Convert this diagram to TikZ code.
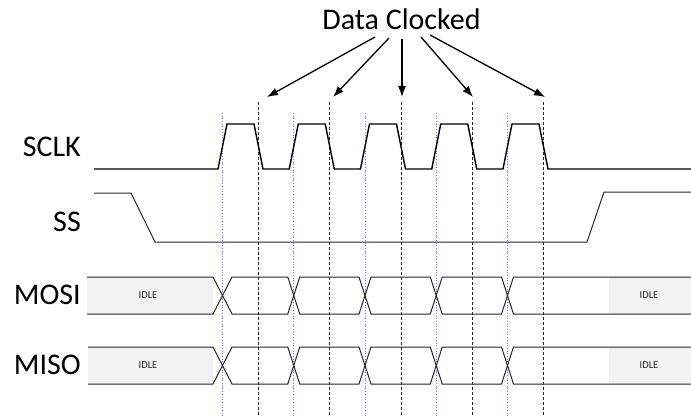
\documentclass[tikz,border=0pt]{standalone}
\usepackage{fontspec}
\setmainfont{Carlito}
\usetikzlibrary{arrows.meta}
\begin{document}
\begin{tikzpicture}[x=1pt,y=-1pt,
  lbl/.style={font=\fontsize{30}{36}\selectfont, inner sep=0pt, anchor=base east},
  idle/.style={font=\fontsize{10.5}{12}\selectfont, inner sep=0pt, text=black!85},
  clk/.style={line width=1.4pt, black, line join=miter},
  sig/.style={line width=1pt, black!85},
  guide/.style={dash pattern=on 3pt off 2pt, line width=0.9pt, black!85},
  edgeline/.style={dotted, line width=0.7pt, blue!55},
  pointer/.style={line width=1.3pt, -{Latex[length=11pt,width=8pt]}},
  idlefill/.style={fill=gray!10},
]
\useasboundingbox (0,0) rectangle (691,417);

% grey idle regions
\fill[idlefill] (87,277) rectangle (213,314);
\fill[idlefill] (609,277) rectangle (691,314);
\fill[idlefill] (88,347) rectangle (213,384);
\fill[idlefill] (609,347) rectangle (691,384);

% blue dotted lines at rising edges
\foreach \x [count=\i] in {222.5,293.75,365,436.25,507.5} {
  \coordinate (b\i top) at (\x,113);
  \coordinate (b\i bot) at (\x,417);
  \draw[edgeline] (b\i top) -- (b\i bot);
}

% dashed lines at falling edges
\foreach \x [count=\i] in {258.5,329.75,401,472.25,543.5} {
  \coordinate (d\i top) at (\x,102);
  \coordinate (d\i bot) at (\x,417);
  \draw[guide] (d\i top) -- (d\i bot);
}

% labels
\node[lbl] (sclk) at (81,157) {SCLK};
\node[lbl] (ss)   at (81,231) {SS};
\node[lbl] (mosi) at (81,304.5) {MOSI};
\node[lbl] (miso) at (81,374.5) {MISO};

% SCLK
\draw[clk] (94,169) -- (218,169) -- (227,124) -- (254,124) -- (263,169)
  -- (289.25,169) -- (298.25,124) -- (325.25,124) -- (334.25,169)
  -- (360.5,169) -- (369.5,124) -- (396.5,124) -- (405.5,169)
  -- (431.75,169) -- (440.75,124) -- (467.75,124) -- (476.75,169)
  -- (503,169) -- (512,124) -- (539,124) -- (548,169) -- (691,169);

% SS
\draw[sig] (94,193) -- (131,193) -- (155,242) -- (587,242) -- (604,192) -- (691,192);

% MOSI
\draw[sig] (87,277) -- (213,277) -- (232,314) -- (287.75,314) -- (299.75,277)
  -- (359,277) -- (371,314) -- (430.25,314) -- (442.25,277) -- (501.5,277)
  -- (513.5,314) -- (691,314);
\draw[sig] (87,314) -- (213,314) -- (232,277) -- (287.75,277) -- (299.75,314)
  -- (359,314) -- (371,277) -- (430.25,277) -- (442.25,314) -- (501.5,314)
  -- (513.5,277) -- (691,277);

% MISO
\draw[sig] (88,347) -- (213,347) -- (232,384) -- (287.75,384) -- (299.75,347)
  -- (359,347) -- (371,384) -- (430.25,384) -- (442.25,347) -- (501.5,347)
  -- (513.5,384) -- (691,384);
\draw[sig] (88,384) -- (213,384) -- (232,347) -- (287.75,347) -- (299.75,384)
  -- (359,384) -- (371,347) -- (430.25,347) -- (442.25,384) -- (501.5,384)
  -- (513.5,347) -- (691,347);

% IDLE texts
\node[idle] (idle1) at (148,295.5) {IDLE};
\node[idle] (idle2) at (649,295.5) {IDLE};
\node[idle] (idle3) at (148,365.5) {IDLE};
\node[idle] (idle4) at (649,365.5) {IDLE};

% title and arrows
\node[font=\fontsize{30}{36}\selectfont, inner sep=0pt, anchor=base] (title) at (401.5,29.5) {Data Clocked};
\coordinate (s1) at (375,37);  \coordinate (t1) at (267,97);
\coordinate (s2) at (389,38);  \coordinate (t2) at (333,97);
\coordinate (s3) at (402,39);  \coordinate (t3) at (402,97);
\coordinate (s4) at (421,37);  \coordinate (t4) at (473,97);
\coordinate (s5) at (430,35);  \coordinate (t5) at (545,97);
\foreach \i in {1,...,5} { \draw[pointer] (s\i) -- (t\i); }
\end{tikzpicture}
\end{document}
